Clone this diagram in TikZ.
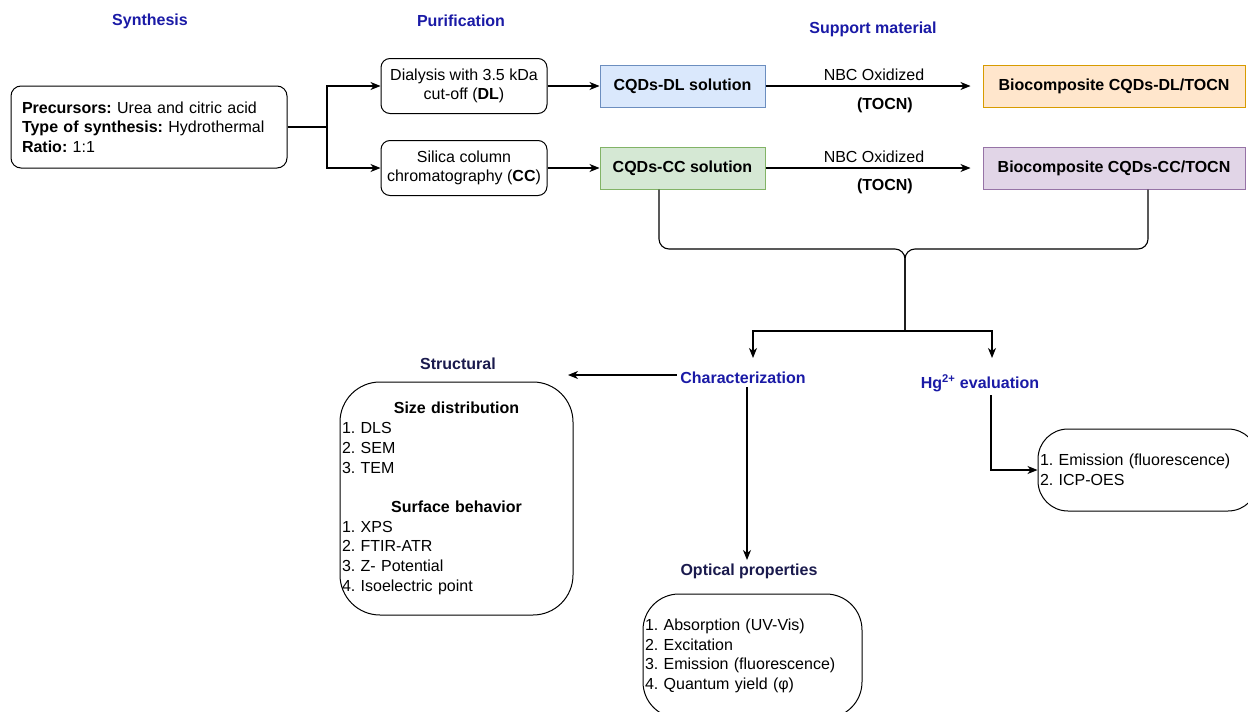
\documentclass[tikz,border=0pt]{standalone}
\usepackage{fontspec}
\setmainfont{Liberation Sans}
\usepackage{tikz}
\usetikzlibrary{arrows.meta}
\frenchspacing
\definecolor{headblue}{RGB}{26,26,166}
\definecolor{headnavy}{RGB}{26,26,77}
\definecolor{dlfill}{HTML}{DAE8FC}
\definecolor{dldraw}{HTML}{6C8EBF}
\definecolor{ccfill}{HTML}{D5E8D4}
\definecolor{ccdraw}{HTML}{82B366}
\definecolor{biodlfill}{HTML}{FFE6CC}
\definecolor{biodldraw}{HTML}{D79B00}
\definecolor{bioccfill}{HTML}{E1D5E7}
\definecolor{bioccdraw}{HTML}{9673A6}
\tikzset{
  txt/.style={font=\fontsize{16}{19.7}\selectfont},
  heading/.style={txt, headblue, font=\fontsize{16}{19.7}\selectfont\bfseries},
  subheading/.style={heading, headnavy},
  roundbox/.style={txt, draw, line width=1pt, rounded corners=9pt, align=center, inner sep=0pt},
  solbox/.style={txt, draw, line width=1pt, inner sep=0pt, minimum width=165pt, minimum height=42pt, font=\fontsize{16}{19.7}\selectfont\bfseries},
  biobox/.style={solbox, minimum width=262pt},
  listbox/.style={txt, draw, line width=1pt, align=left, inner xsep=2pt, inner ysep=0pt},
  conn/.style={line width=1.1pt},
  arrow/.style={conn, -{Stealth[length=10pt, width=8pt, inset=3pt]}},
}
\begin{document}
\begin{tikzpicture}[x=1pt, y=-1pt]
  \useasboundingbox (0,0) rectangle (1248,712);

  % Stage titles
  \node[heading] (synlabel) at (150,21) {Synthesis};
  \node[heading] (purlabel) at (461,21) {Purification};
  \node[heading] (suplabel) at (873,29) {Support material};

  % Synthesis and purification
  \node[roundbox, rounded corners=10pt, align=left, text width=254pt, inner xsep=11pt, minimum height=82pt] (synth) at (149,127)
    {\textbf{Precursors:} Urea and citric acid\\\textbf{Type of synthesis:} Hydrothermal\\\textbf{Ratio:} 1:1};
  \node[roundbox, minimum width=166pt, minimum height=55pt] (dialysis) at (464,86) {Dialysis with 3.5 kDa\\cut-off (\textbf{DL})};
  \node[roundbox, minimum width=166pt, minimum height=55pt] (silica) at (464,168) {Silica column\\chromatography (\textbf{CC})};

  \coordinate (split) at (327,127);
  \draw[conn] (synth.east) -- (split);
  \draw[arrow] (split) |- (dialysis.west);
  \draw[arrow] (split) |- (silica.west);

  % Solutions and biocomposites
  \node[solbox, fill=dlfill, draw=dldraw] (cqddl) at (682.5,86) {CQDs-DL solution};
  \node[solbox, fill=ccfill, draw=ccdraw] (cqdcc) at (682.5,168) {CQDs-CC solution};
  \node[biobox, fill=biodlfill, draw=biodldraw] (biodl) at (1114,86) {Biocomposite CQDs-DL/TOCN};
  \node[biobox, fill=bioccfill, draw=bioccdraw] (biocc) at (1114,168) {Biocomposite CQDs-CC/TOCN};

  \draw[arrow] (dialysis.east) -- (cqddl.west);
  \draw[arrow] (silica.east) -- (cqdcc.west);
  \draw[arrow, shorten >=12pt] (cqddl.east) -- (biodl.west)
    node[txt, pos=0.5, above=1pt] {NBC Oxidized}
    node[txt, pos=0.55, below=8pt, font=\fontsize{16}{19.7}\selectfont\bfseries] {(TOCN)};
  \draw[arrow, shorten >=12pt] (cqdcc.east) -- (biocc.west)
    node[txt, pos=0.5, above=1pt] {NBC Oxidized}
    node[txt, pos=0.55, below=7pt, font=\fontsize{16}{19.7}\selectfont\bfseries] {(TOCN)};

  % Brace joining both products
  \coordinate (tip) at (905,249);
  \coordinate (fork) at (905,331);
  \draw[conn, rounded corners=10pt] ([xshift=-23.5pt]cqdcc.south) |- (tip) -- (fork);
  \draw[conn, rounded corners=10pt] ([xshift=34pt]biocc.south) |- (tip) -- (fork);

  % Characterization and evaluation
  \node[heading] (charac) at (743,378) {Characterization};
  \node[heading] (hg) at (980,383) {Hg\textsuperscript{2+} evaluation};
  \coordinate (charin) at (753,358);
  \coordinate (hgin) at (992,358);
  \draw[arrow] (fork) -| (charin);
  \draw[arrow] (fork) -| (hgin);

  % Structural
  \node[subheading] (structlabel) at (458,364) {Structural};
  \node[listbox, rounded corners=40pt, text width=229pt, minimum height=233pt] (structbox) at (456.5,498.5)
    {{\centering\textbf{Size distribution}\par}
     1. DLS\\2. SEM\\3. TEM\\[19.7pt]
     {\centering\textbf{Surface behavior}\par}
     1. XPS\\2. FTIR-ATR\\3. Z- Potential\\4. Isoelectric point};
  \coordinate (structin) at (568,375);
  \draw[arrow] ([yshift=3pt]charac.west) -- ([yshift=3pt]charac.west -| structin);

  % Optical properties
  \node[subheading] (optlabel) at (749,571) {Optical properties};
  \node[listbox, rounded corners=36pt, text width=215pt, minimum height=124pt] (optbox) at (752.5,656)
    {1. Absorption (UV-Vis)\\2. Excitation\\3. Emission (fluorescence)\\4. Quantum yield (φ)};
  \draw[arrow] ([xshift=4pt]charac.south) -- ([xshift=4pt]charac.south |- optlabel.north);

  % Mercury evaluation
  \node[listbox, rounded corners=30pt, text width=216pt, minimum height=82pt] (hgbox) at (1148,470)
    {1. Emission (fluorescence)\\2. ICP-OES};
  \draw[arrow] ([xshift=11pt]hg.south) |- (hgbox.west);
\end{tikzpicture}
\end{document}
